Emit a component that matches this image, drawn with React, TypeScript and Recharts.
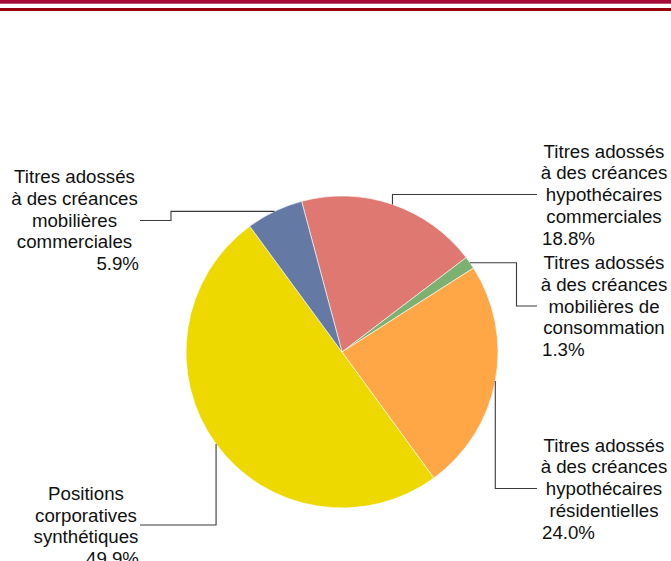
import { Cell, Pie, PieChart } from "recharts";

const categories = [
  "Titres adossés\nà des créances\nhypothécaires\ncommerciales",
  "Titres adossés\nà des créances\nmobilières de\nconsommation",
  "Titres adossés\nà des créances\nhypothécaires\nrésidentielles",
  "Positions\ncorporatives\nsynthétiques",
  "Titres adossés\nà des créances\nmobilières\ncommerciales",
];

const shares = [18.8, 1.3, 24.0, 49.9, 5.9];

const sliceColors = ["#DE7870", "#7CB172", "#FFA647", "#EDD900", "#6479A3"];

const chartData = categories.map((name, i) => ({ name, value: shares[i] }));

// where each label block sits and how its elbow leader line runs
type LabelLayout = {
  side: "left" | "right";
  centerX: number;
  edgeX: number;
  firstY: number;
  route: "vh" | "hvh";
  elbowX?: number;
  elbowY: number;
  endX: number;
};

const labelLayouts: LabelLayout[] = [
  { side: "right", centerX: 604, edgeX: 542, firstY: 157.7, route: "vh", elbowY: 194.5, endX: 537 },
  { side: "right", centerX: 604, edgeX: 542, firstY: 269.3, route: "hvh", elbowX: 516.5, elbowY: 306, endX: 537 },
  { side: "right", centerX: 604, edgeX: 542, firstY: 451.7, route: "vh", elbowY: 488.5, endX: 537 },
  { side: "left", centerX: 86, edgeX: 139, firstY: 500, route: "vh", elbowY: 525, endX: 140 },
  { side: "left", centerX: 74.5, edgeX: 139, firstY: 183.3, route: "hvh", elbowX: 171, elbowY: 220.5, endX: 140 },
];

const RADIAN = Math.PI / 180;
const LINE_STEP = 21.7;
const FONT = "'Liberation Sans', Arial, sans-serif";

function renderLabel(props: any) {
  const { cx, cy, midAngle, outerRadius, name, value } = props;
  const index = props.index ?? categories.indexOf(name);
  const layout = labelLayouts[index];
  if (!layout) return null;

  const px = cx + outerRadius * Math.cos(-midAngle * RADIAN);
  const py = cy + outerRadius * Math.sin(-midAngle * RADIAN);

  let d = `M${px},${py}`;
  if (layout.route === "vh") {
    d += ` V${layout.elbowY} H${layout.endX}`;
  } else {
    d += ` H${layout.elbowX} V${layout.elbowY} H${layout.endX}`;
  }

  const lines = String(name).split("\n");
  const pct = `${Number(value).toFixed(1)}%`;

  return (
    <g key={`label-${index}`}>
      <path d={d} fill="none" stroke="#3a3a3a" strokeWidth={1.1} />
      <text fontFamily={FONT} fontSize={18.7} fill="#111">
        {lines.map((line, i) => (
          <tspan
            key={i}
            x={layout.centerX}
            y={layout.firstY + i * LINE_STEP}
            textAnchor="middle"
          >
            {line}
          </tspan>
        ))}
        <tspan
          x={layout.edgeX}
          y={layout.firstY + lines.length * LINE_STEP}
          textAnchor={layout.side === "right" ? "start" : "end"}
        >
          {pct}
        </tspan>
      </text>
    </g>
  );
}

export default function App() {
  return (
    <div
      style={{
        position: "absolute",
        left: 0,
        top: 0,
        width: 671,
        height: 561,
        background: "#fff",
        overflow: "hidden",
      }}
    >
      <div style={{ position: "absolute", left: 0, top: 0, width: 671, height: 3, background: "#A60A38" }} />
      <div style={{ position: "absolute", left: 0, top: 3, width: 671, height: 1, background: "#C0506E" }} />
      <div style={{ position: "absolute", left: 0, top: 8, width: 671, height: 3, background: "#960008" }} />
      <PieChart width={671} height={561} margin={{ top: 0, right: 0, bottom: 0, left: 0 }}>
        <Pie
          data={chartData}
          dataKey="value"
          nameKey="name"
          cx={342}
          cy={352}
          outerRadius={156}
          startAngle={105}
          endAngle={-255}
          stroke="#ffffff"
          strokeWidth={0.6}
          label={renderLabel}
          labelLine={false}
          isAnimationActive={false}
        >
          {chartData.map((entry, i) => (
            <Cell key={entry.name} fill={sliceColors[i]} />
          ))}
        </Pie>
      </PieChart>
    </div>
  );
}
